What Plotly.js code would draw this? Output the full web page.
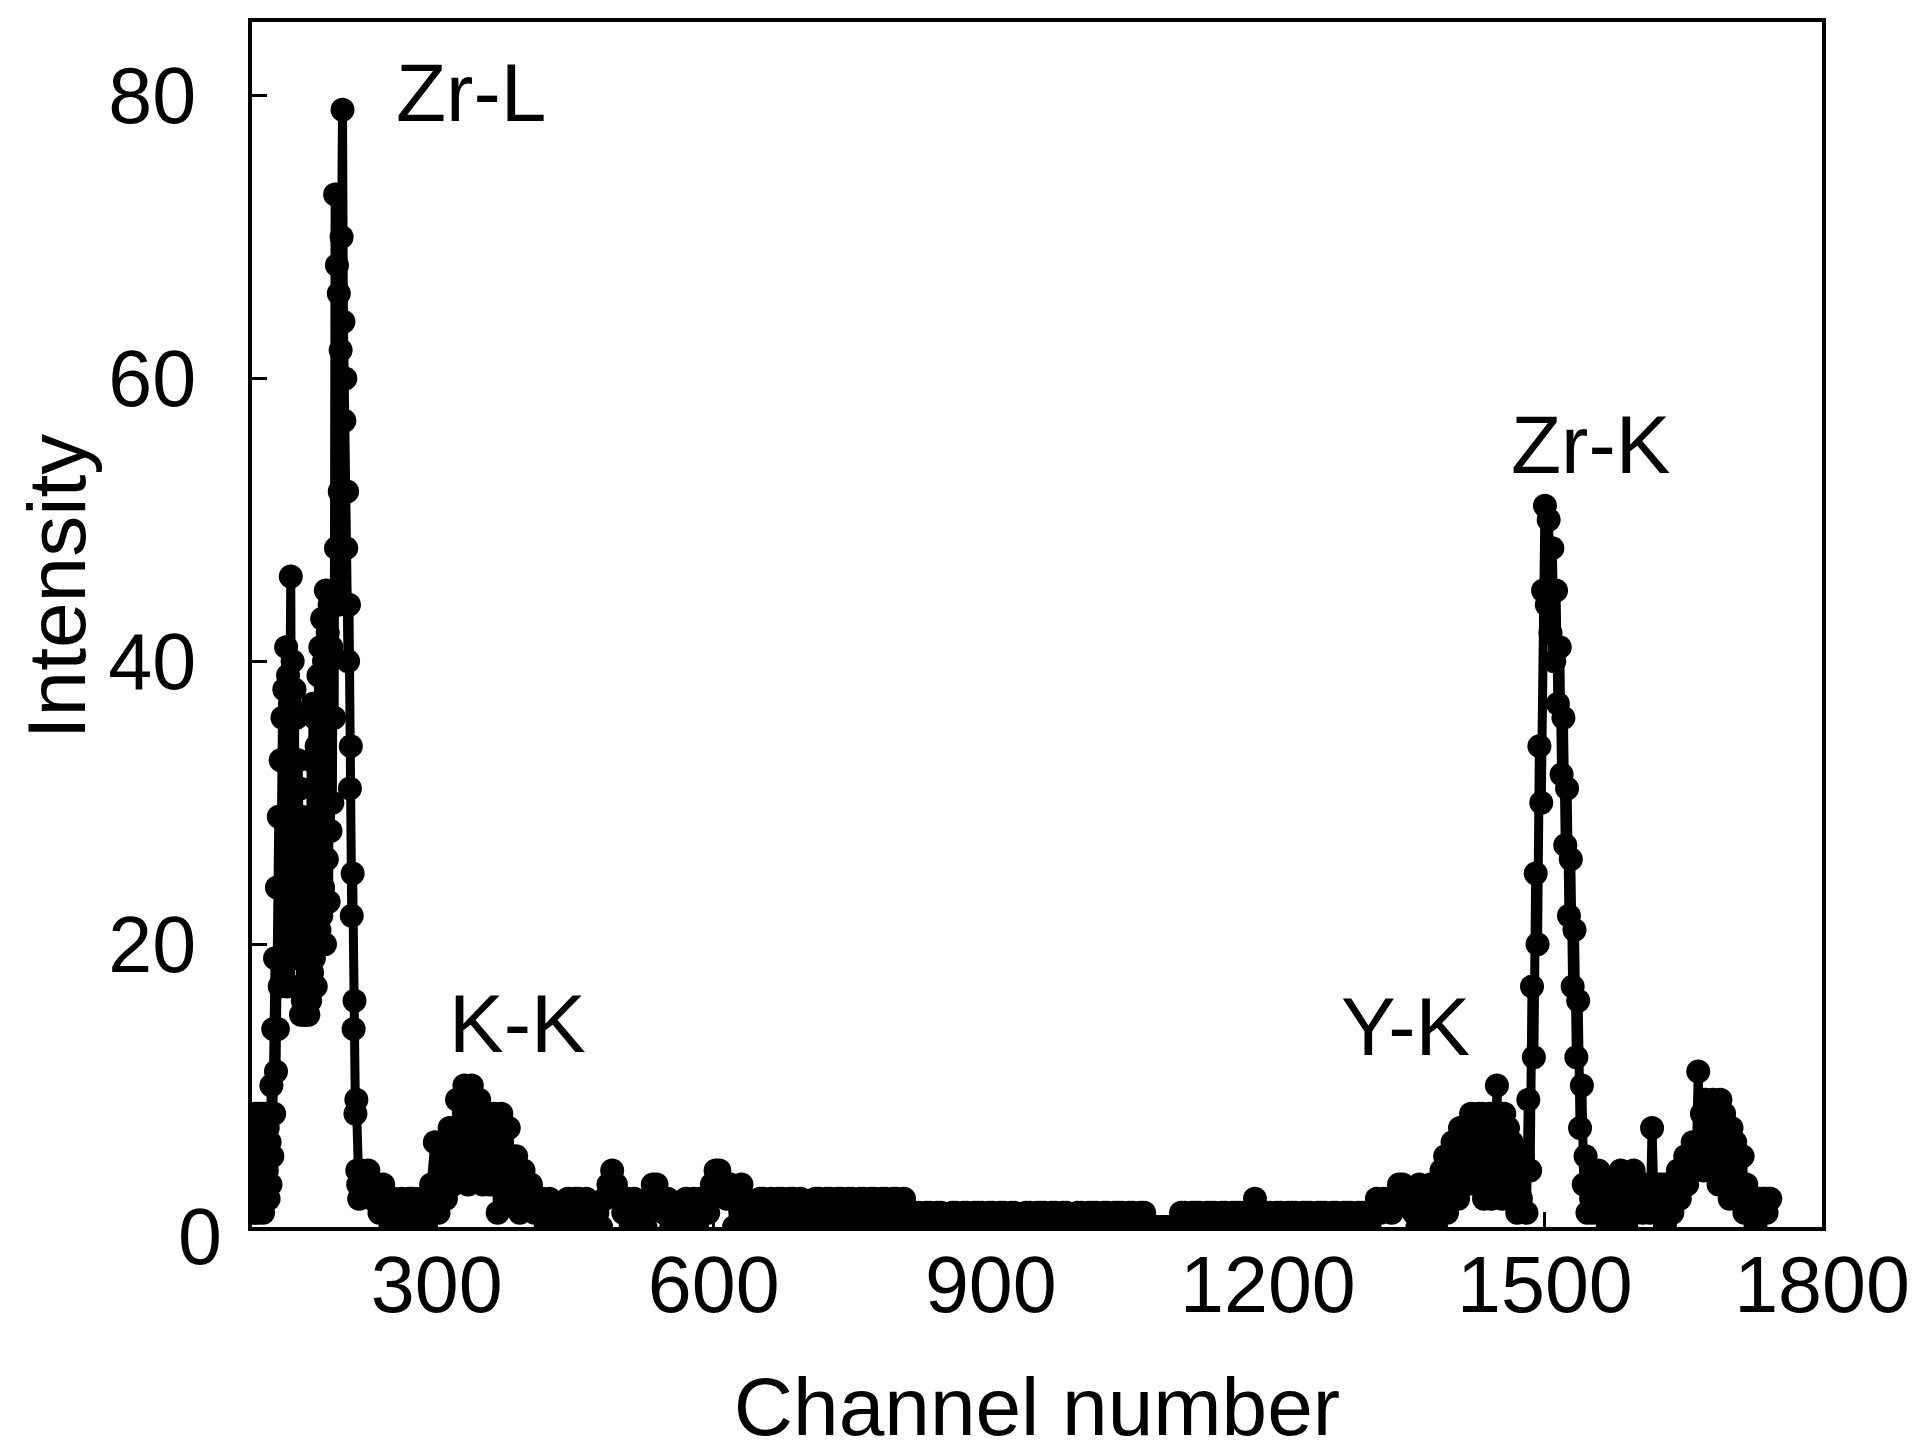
<!DOCTYPE html>
<html>
<head>
<meta charset="utf-8">
<script src="https://cdn.plot.ly/plotly-3.0.1.min.js"></script>
<style>
  html, body { margin: 0; padding: 0; background: #fff; }
  #chart { width: 1928px; height: 1452px; }
</style>
</head>
<body>
<div id="chart"></div>
<script>
// counts, block by block; each block starts at a channel and uses a fixed channel step
const zrLStart = 100;   // step 1, channels 100-216
const zrLCounts = [
  2, 7, 1, 8, 3, 6, 1, 8, 2, 7, 3, 8, 1, 6, 2, 8, 4, 7,
  2, 6, 3, 10, 5, 14, 8, 19, 11, 24, 14, 29, 17, 33, 19,
  36, 18, 38, 21, 41, 17, 39, 23, 37, 46, 20, 40, 24, 38, 19, 36, 22, 33,
  17, 31, 15, 29, 16, 27, 15, 26, 15, 24,
  15, 28, 16, 33, 18, 37, 19, 36, 17, 34, 20, 39, 21, 41,
  22, 43, 24, 40, 20, 45, 26, 42, 23, 44, 28, 41, 30, 45, 36,
  73, 48, 68, 44, 66, 52, 62, 70, 79,
  64, 57, 60, 48, 52, 40, 44, 31, 34, 22, 25, 14, 16, 8, 9, 4, 3, 2
];

const lowStart = 218;   // step 4, channels 218-282
const lowCounts = [4, 3, 4, 2, 3, 1, 3, 2, 0, 2, 1, 2, 0, 2, 2, 1, 2];

const kkStart = 286;    // step 4, channels 286-410
const kkCounts = [
  0, 2, 3, 6, 1, 5, 2, 7, 3, 9, 4, 10, 3, 10, 4, 9,
  3, 8, 3, 8, 1, 8, 2, 7, 2, 5, 1, 4, 2, 3, 1, 2
];

const midStart = 414;   // step 4, channels 414-806
const midCounts = [
  2, 0, 2, 1, 1, 0, 1, 2, 0, 2,
  2, 1, 2, 0, 1, 1, 0, 2, 3, 4,
  3, 2, 1, 2, 0, 2, 1, 1, 0, 2,
  3, 3, 2, 1, 2, 0, 1, 1, 0, 2,
  1, 2, 0, 2, 2, 1, 3, 4, 4, 3,
  2, 3, 0, 2, 3, 2, 1, 1, 0, 2,
  2, 0, 2, 1, 2, 2, 0, 2, 2, 1,
  2, 1, 0, 1, 2, 2, 0, 2, 2, 1,
  2, 2, 0, 2, 2, 1, 2, 2, 0, 2,
  2, 1, 2, 2, 0, 2, 2, 1, 2
];

const flatStart = 810;  // step 4, channels 810-1358
const flatCounts = [
  1, 0, 1, 1, 0, 1, 1, 0, 1, 1,
  0, 0, 1, 1, 0, 1, 1, 0, 1, 1,
  1, 0, 1, 1, 0, 1, 1, 0, 1, 1,
  0, 0, 1, 1, 0, 1, 1, 1, 0, 1,
  1, 0, 1, 1, 0, 0, 1, 1, 0, 1,
  1, 1, 0, 1, 1, 0, 1, 1, 1, 0,
  1, 1, 0, 1, 1, 0, 0, 0, 0, 0,
  0, 0, 0, 0, 1, 1, 0, 1, 1, 1,
  0, 1, 1, 1, 0, 1, 1, 0, 1, 1,
  1, 0, 1, 1, 2, 1, 0, 1, 1, 0,
  1, 1, 0, 1, 1, 1, 0, 1, 1, 1,
  0, 1, 1, 1, 0, 1, 1, 0, 1, 1,
  1, 0, 1, 1, 1, 0, 1, 2, 1, 2,
  2, 1, 2, 3, 3, 2, 2, 1
];

const ykStart = 1360;   // step 2, channels 1360-1462
const ykCounts = [
  2, 0, 3, 1, 2, 0, 2, 1, 3, 1,
  2, 0, 3, 1, 4, 2, 5, 1, 5, 2,
  6, 3, 6, 2, 7, 4, 7, 3, 7, 5,
  8, 4, 7, 3, 8, 5, 8, 2, 7, 3,
  8, 2, 8, 3, 10, 4, 8, 2, 8, 3,
  7, 2
];

const zrKStart = 1464;  // step 2, channels 1464-1550
const zrKCounts = [
  6, 2, 5, 1, 4, 2, 5, 4, 1, 9,
  4, 17, 12, 25, 20, 34, 30, 45, 51, 44,
  50, 42, 48, 40, 45, 37, 41, 32, 36, 27,
  31, 22, 26, 17, 21, 12, 16, 7, 10, 3,
  5, 1, 3, 2
];

const tailStart = 1552; // step 2, channels 1552-1744
const tailCounts = [
  1, 3, 2, 4, 1, 3, 2, 3, 0, 3,
  2, 3, 1, 3, 2, 4, 2, 3, 0, 3,
  3, 2, 4, 1, 3, 2, 3, 1, 3, 2,
  3, 1, 7, 2, 3, 1, 3, 2, 3, 0,
  3, 2, 3, 1, 3, 2, 4, 2, 4, 3,
  5, 3, 5, 4, 6, 4, 5, 11, 5, 8,
  4, 9, 5, 8, 4, 9, 5, 8, 3, 9,
  5, 8, 3, 7, 2, 7, 4, 6, 3, 5,
  2, 5, 1, 3, 2, 2, 1, 2, 0, 2,
  2, 1, 2, 2, 1, 2, 2
];

const xTicks = [300, 600, 900, 1200, 1500, 1800];
const yTicks = [0, 20, 40, 60, 80];
const yTickText = ['', '20', '40', '60', '80'];  // the 0 sits in the corner, drawn on its own below

const peakNames = ['Zr-L', 'K-K', 'Y-K', 'Zr-K'];
const peakChannel = [337, 388, 1349, 1549];
const peakHeight = [80.2, 14.4, 14.2, 55.3];

const blocks = [
  { start: zrLStart, step: 1, counts: zrLCounts },
  { start: lowStart, step: 4, counts: lowCounts },
  { start: kkStart, step: 4, counts: kkCounts },
  { start: midStart, step: 4, counts: midCounts },
  { start: flatStart, step: 4, counts: flatCounts },
  { start: ykStart, step: 2, counts: ykCounts },
  { start: zrKStart, step: 2, counts: zrKCounts },
  { start: tailStart, step: 2, counts: tailCounts }
];

const channel = [];
const intensity = [];
blocks.forEach((b) => {
  b.counts.forEach((c, i) => {
    channel.push(b.start + i * b.step);
    intensity.push(c);
  });
});

const font = 'Liberation Sans, Arial, sans-serif';
const textFont = { family: font, size: 82, color: '#000' };

function axisStyle() {
  return {
    showline: true,
    mirror: true,
    linecolor: '#000',
    linewidth: 4,
    ticks: 'inside',
    ticklen: 15,
    tickwidth: 3,
    tickcolor: '#000',
    showgrid: false,
    zeroline: false,
    tickfont: { family: font, size: 79, color: '#000' }
  };
}

const notes = [
  {
    xref: 'paper', yref: 'paper', x: -0.1248, y: 0.531,
    text: 'Intensity', textangle: -90, showarrow: false,
    xanchor: 'center', yanchor: 'middle', font: textFont
  },
  {
    xref: 'paper', yref: 'paper', x: -0.018, y: -0.008,
    text: String(yTicks[0]), showarrow: false,
    xanchor: 'right', yanchor: 'middle', font: { family: font, size: 79, color: '#000' }
  }
].concat(peakNames.map((name, i) => ({
  x: peakChannel[i],
  y: peakHeight[i],
  xref: 'x',
  yref: 'y',
  text: name,
  showarrow: false,
  xanchor: 'center',
  yanchor: 'middle',
  font: textFont
})));

Plotly.newPlot('chart', [{
  type: 'scatter',
  mode: 'lines+markers',
  x: channel,
  y: intensity,
  line: { color: '#000', width: 9 },
  marker: { color: '#000', size: 24 },
  hoverinfo: 'x+y'
}], {
  width: 1928,
  height: 1452,
  paper_bgcolor: '#fff',
  plot_bgcolor: '#fff',
  margin: { l: 252, r: 106, t: 22, b: 225 },
  showlegend: false,
  xaxis: {
    ...axisStyle(),
    range: [100, 1800],
    tickvals: xTicks,
    ticklabelstandoff: -14,
    title: { text: 'Channel number', font: textFont, standoff: 62 }
  },
  yaxis: {
    ...axisStyle(),
    range: [0, 85.2],
    tickvals: yTicks,
    ticktext: yTickText,
    ticklabelstandoff: 36
  },
  annotations: notes
}, { displayModeBar: false, responsive: false });
</script>
</body>
</html>
